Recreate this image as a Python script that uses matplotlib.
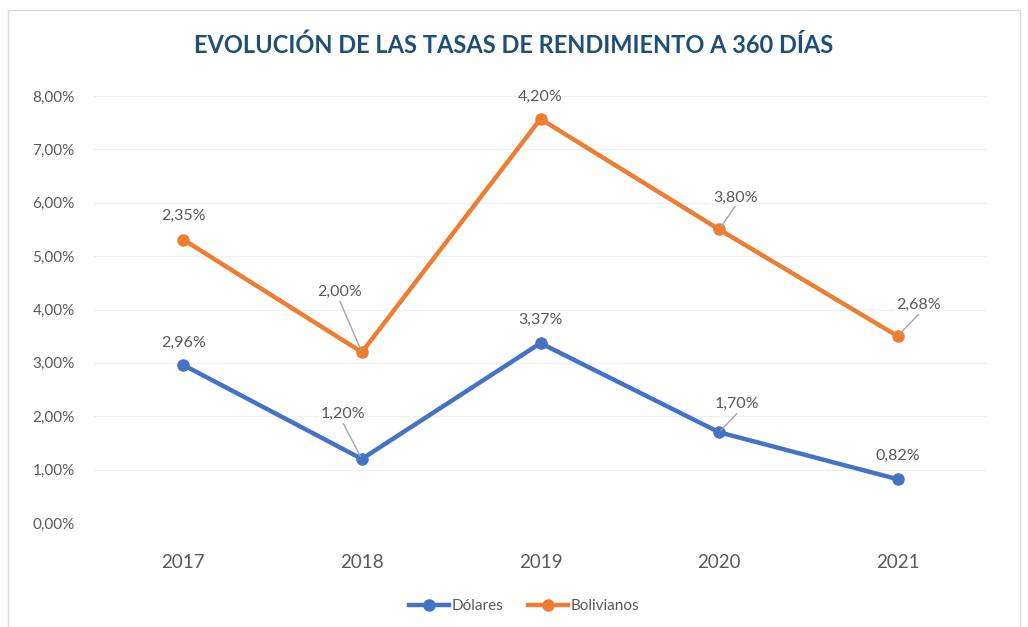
import matplotlib
matplotlib.use("Agg")
import matplotlib.pyplot as plt
from matplotlib.patches import Rectangle
from matplotlib.lines import Line2D
import numpy as np

years = ["2017", "2018", "2019", "2020", "2021"]
dolares = [2.96, 1.20, 3.37, 1.70, 0.82]
bolivianos = [2.35, 2.00, 4.20, 3.80, 2.68]
yticks = [0, 1, 2, 3, 4, 5, 6, 7, 8]

title = "EVOLUCIÓN DE LAS TASAS DE RENDIMIENTO A 360 DÍAS"
BLUE = "#4472C4"
ORANGE = "#ED7D31"
TXT = "#595959"
FONT = ["Lato", "DejaVu Sans"]

plt.rcParams['font.family'] = FONT

W, H = 1028, 627
fig = plt.figure(figsize=(W / 100, H / 100), dpi=100)
fig.patches.append(Rectangle((8 / W, -0.05), (1020 - 8) / W, 1.05 - 10 / H,
                             transform=fig.transFigure, fill=False,
                             edgecolor="#D9D9D9", linewidth=1.0))

ax = fig.add_axes([94 / W, 1 - 523 / H, (987 - 94) / W, (523 - 96) / H])
x = np.arange(len(years))
dol = np.array(dolares)
bol_stack = dol + np.array(bolivianos)

ax.plot(x, dol, color=BLUE, lw=3.2, marker="o", ms=8, zorder=3, solid_capstyle="round")
ax.plot(x, bol_stack, color=ORANGE, lw=3.2, marker="o", ms=8, zorder=3, solid_capstyle="round")

ax.set_xlim(-0.5, len(years) - 0.5)
ax.set_ylim(0, 8)
ax.set_yticks(yticks)
ax.set_yticklabels([f"{v:.2f}%".replace(".", ",") for v in yticks], fontsize=11, color=TXT)
ax.set_xticks(x)
ax.set_xticklabels(years, fontsize=13.5, color=TXT)
ax.tick_params(axis="both", length=0)
ax.tick_params(axis="y", pad=14)
ax.tick_params(axis="x", pad=22)
for s in ax.spines.values():
    s.set_visible(False)
ax.grid(axis="y", color="#F0F0F0", lw=1)
ax.set_axisbelow(True)

# label offsets in pixels (dx, dy) of label centre, and whether to draw a leader line
dol_off = [(0, 22, False), (-19, 45, True), (0, 23, False), (18, 28, True), (0, 23, False)]
bol_off = [(0, 24, False), (-22, 60, True), (0, 22, False), (16, 32, True), (21, 31, True)]

def label(xi, yi, val, off):
    dx, dy, lead = off
    txt = f"{val:.2f}%".replace(".", ",")
    if lead:
        ax.annotate("", xy=(xi, yi), xytext=(dx, dy - 9), textcoords="offset pixels",
                    arrowprops=dict(arrowstyle="-", color="#A6A6A6", lw=1,
                                    shrinkA=0, shrinkB=2), zorder=4)
    ax.annotate(txt, xy=(xi, yi), xytext=(dx, dy), textcoords="offset pixels",
                ha="center", va="center", fontsize=11.5, color=TXT, zorder=5,
                bbox=dict(boxstyle="square,pad=0.1", fc="white", ec="none"))

for i in range(len(years)):
    label(x[i], dol[i], dolares[i], dol_off[i])
    label(x[i], bol_stack[i], bolivianos[i], bol_off[i])

fig.text(0.5, 1 - 45 / H, title, ha="center", va="center", fontsize=17,
         fontweight="bold", color="#1F4E79")

handles = [Line2D([], [], color=BLUE, lw=3.2, marker="o", ms=8),
           Line2D([], [], color=ORANGE, lw=3.2, marker="o", ms=8)]
fig.legend(handles, ["Dólares", "Bolivianos"], loc="center", bbox_to_anchor=(524 / W, 1 - 606 / H),
           ncol=2, frameon=False, fontsize=11, labelcolor=TXT, handlelength=2.6,
           handletextpad=0.2, columnspacing=1.6)

fig.savefig("out.png", dpi=100)
